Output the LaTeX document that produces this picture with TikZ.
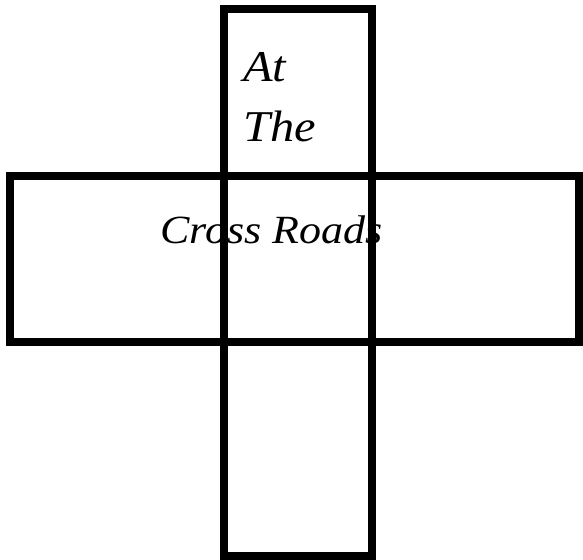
\documentclass[tikz,border=0pt]{standalone}
\usepackage{fontspec}
\usetikzlibrary{positioning}
\setmainfont{Liberation Serif}
\newfontfamily\scrawlfont[FakeStretch=1.1]{Liberation Serif}
\tikzset{road/.style={draw=black,line width=8pt,minimum width=#1,inner sep=0pt},road/.default=10pt,scrawl/.style={font=\scrawlfont\itshape\fontsize{#1}{#1}\selectfont,text=black,inner sep=0pt,anchor=base west},scrawl/.default=40}

\begin{document}
\begin{tikzpicture}[x=1pt,y=-1pt]
\useasboundingbox (0,0) rectangle (583,559);
\node[road=148.5pt,minimum height=546.5pt] (vroad) at (297.75,282.25) {};
\node[road=569pt,minimum height=165.5pt] (hroad) at (294.5,258.75) {};
\node[scrawl=44] (at) at (243,82) {At};
\node[scrawl=44,below=60pt of at.base west,anchor=base west] (the) {The};
\node[scrawl] (cross) at (160,243) {Cross Roads};
\end{tikzpicture}
\end{document}
